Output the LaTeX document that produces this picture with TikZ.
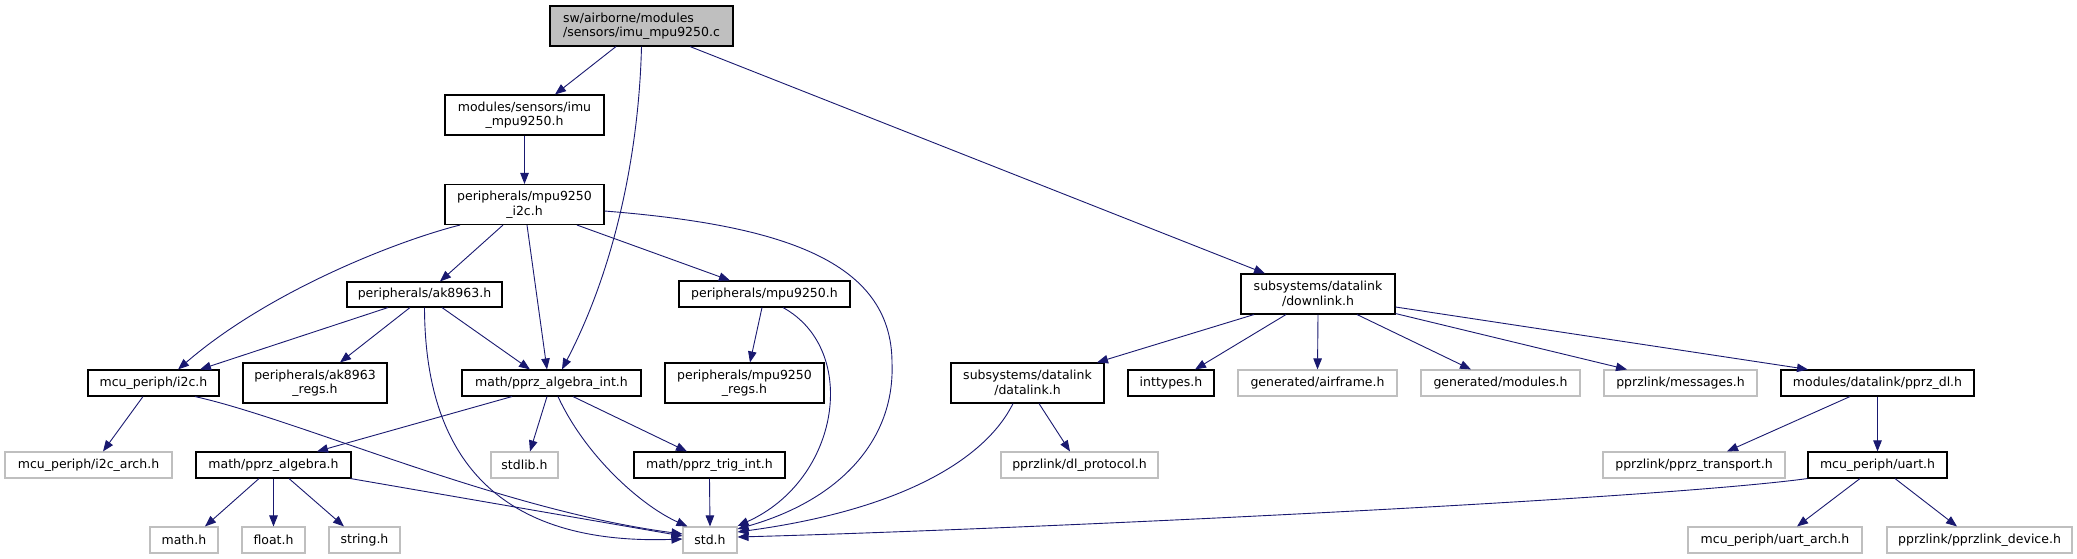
\documentclass[tikz,border=0pt]{standalone}
\usepackage{fontspec}
\setmainfont{DejaVu Sans}
\usetikzlibrary{arrows.meta}
\definecolor{edgec}{HTML}{191970}
\definecolor{greyb}{HTML}{BFBFBF}
\begin{document}
\begin{tikzpicture}[x=1pt,y=-1pt,
  box/.style={draw=black,fill=white,line width=1.1pt,rectangle,inner sep=0pt,align=center,
    font=\fontsize{12.5pt}{14.5pt}\selectfont,minimum height=26pt},
  tall/.style={minimum height=40pt},
  gbox/.style={box,draw=greyb},
  edge/.style={draw=edgec,line width=0.9pt,-{Triangle[length=11pt,width=8.5pt]}}]
\fill[white] (0,0) rectangle (2077,559);
\path[use as bounding box] (0,0) rectangle (2077,559);
% nodes
\node[box,tall,fill=greyb,align=left,minimum width=183pt] (root) at (641.5,26) {sw/airborne/modules\\/sensors/imu\_mpu9250.c};
\node[box,tall,minimum width=159pt] (imuh) at (524.5,115) {modules/sensors/imu\\\_mpu9250.h};
\node[box,tall,minimum width=159pt] (i2cmpu) at (524.5,204.5) {peripherals/mpu9250\\\_i2c.h};
\node[box,minimum width=155pt,minimum height=25pt] (ak) at (424.5,294.5) {peripherals/ak8963.h};
\node[box,minimum width=171pt] (mpuh) at (764.5,294) {peripherals/mpu9250.h};
\node[box,tall,minimum width=154pt] (downlink) at (1318,294) {subsystems/datalink\\/downlink.h};
\node[box,minimum width=131pt] (i2c) at (153.5,383) {mcu\_periph/i2c.h};
\node[box,tall,minimum width=144pt] (akregs) at (315,383) {peripherals/ak8963\\\_regs.h};
\node[box,minimum width=179pt] (algint) at (551.5,383) {math/pprz\_algebra\_int.h};
\node[box,tall,minimum width=159pt] (mpuregs) at (744.5,383) {peripherals/mpu9250\\\_regs.h};
\node[box,tall,minimum width=153pt] (datalink) at (1027.5,383) {subsystems/datalink\\/datalink.h};
\node[box,minimum width=86pt] (inttypes) at (1171,383) {inttypes.h};
\node[gbox,minimum width=159pt] (airframe) at (1317.5,383) {generated/airframe.h};
\node[gbox,minimum width=159pt] (modules) at (1500.5,383) {generated/modules.h};
\node[gbox,minimum width=153pt] (messages) at (1680.5,383) {pprzlink/messages.h};
\node[box,minimum width=193pt] (pprzdl) at (1877.5,383) {modules/datalink/pprz\_dl.h};
\node[gbox,minimum width=167pt] (i2carch) at (88.5,465) {mcu\_periph/i2c\_arch.h};
\node[box,minimum width=155pt] (alg) at (273.5,465) {math/pprz\_algebra.h};
\node[gbox,minimum width=67pt] (stdlib) at (524.5,465) {stdlib.h};
\node[box,minimum width=151pt] (trig) at (709.5,465) {math/pprz\_trig\_int.h};
\node[gbox,minimum width=157pt] (dlproto) at (1079.5,465) {pprzlink/dl\_protocol.h};
\node[gbox,minimum width=182pt] (transport) at (1694,465) {pprzlink/pprz\_transport.h};
\node[box,minimum width=139pt] (uart) at (1877.5,465) {mcu\_periph/uart.h};
\node[gbox,minimum width=68pt] (mathh) at (184,540) {math.h};
\node[gbox,minimum width=63pt] (floath) at (273.5,540) {float.h};
\node[gbox,minimum width=71pt] (stringh) at (364.5,540) {string.h};
\node[gbox,minimum width=54pt] (stdh) at (710,540) {std.h};
\node[gbox,minimum width=174pt] (uartarch) at (1775,540) {mcu\_periph/uart\_arch.h};
\node[gbox,minimum width=185pt] (device) at (1979.5,540) {pprzlink/pprzlink\_device.h};
% edges
\draw[edge] ([xshift=-25.5pt]root.south) -- ([xshift=30.5pt]imuh.north);
\draw[edge] (root.south) .. controls (639,150) and (616,266) .. ([xshift=10.5pt]algint.north);
\draw[edge] ([xshift=48.5pt]root.south) -- ([xshift=-53pt]downlink.north);
\draw[edge] (imuh.south) -- (i2cmpu.north);
\draw[edge] ([xshift=-64.5pt]i2cmpu.south) .. controls (400,240) and (270,290) .. ([xshift=24.5pt]i2c.north);
\draw[edge] ([xshift=-21.5pt]i2cmpu.south) -- ([xshift=15.5pt]ak.north);
\draw[edge] ([xshift=2.5pt]i2cmpu.south) -- ([xshift=-4.5pt]algint.north);
\draw[edge] ([xshift=52.5pt]i2cmpu.south) -- ([xshift=-34.5pt]mpuh.north);
\draw[edge] ([yshift=-6.5pt]i2cmpu.east) .. controls (780,225) and (892,260) .. (892,363) .. controls (895,440) and (840,500) .. ([yshift=11pt]stdh.east);
\draw[edge] ([xshift=-36.5pt]ak.south) -- ([xshift=46.5pt]i2c.north);
\draw[edge] ([xshift=-14.5pt]ak.south) -- ([xshift=25pt]akregs.north);
\draw[edge] ([xshift=17.5pt]ak.south) -- ([xshift=-21.5pt]algint.north);
\draw[edge] (ak.south) .. controls (425,470) and (510,545) .. ([yshift=1pt]stdh.west);
\draw[edge] ([xshift=-10.5pt]i2c.south) -- ([xshift=14.5pt]i2carch.north);
\draw[edge] ([xshift=41.5pt]i2c.south) .. controls (300,420) and (500,510) .. ([yshift=6pt]stdh.west);
\draw[edge] ([xshift=-39.5pt]algint.south) -- ([xshift=43.5pt]alg.north);
\draw[edge] ([xshift=-4.5pt]algint.south) -- ([xshift=5.5pt]stdlib.north);
\draw[edge] ([xshift=6.5pt]algint.south) .. controls (585,455) and (640,505) .. ([xshift=5pt]stdh.north west);
\draw[edge] ([xshift=21.5pt]algint.south) -- ([xshift=-22.5pt]trig.north);
\draw[edge] ([xshift=-14.5pt]alg.south) -- ([xshift=21pt]mathh.north);
\draw[edge] (alg.south) -- (floath.north);
\draw[edge] ([xshift=15.5pt]alg.south) -- ([xshift=-20.5pt]stringh.north);
\draw[edge] ([xshift=-1pt]alg.south east) -- ([yshift=4pt]stdh.west);
\draw[edge] (trig.south) -- (stdh.north);
\draw[edge] ([xshift=-2.5pt]mpuh.south) -- ([xshift=5.5pt]mpuregs.north);
\draw[edge] ([xshift=18.5pt]mpuh.south) .. controls (860,350) and (840,480) .. ([yshift=14pt]stdh.east);
\draw[edge] ([xshift=-64pt]downlink.south) -- ([xshift=69.5pt]datalink.north);
\draw[edge] ([xshift=-32pt]downlink.south) -- ([xshift=24pt]inttypes.north);
\draw[edge] (downlink.south) -- (airframe.north);
\draw[edge] ([xshift=39pt]downlink.south) -- ([xshift=-29.5pt]modules.north);
\draw[edge] ([yshift=1pt]downlink.south east) -- ([xshift=-53.5pt]messages.north);
\draw[edge] ([yshift=-13pt]downlink.east) -- ([xshift=-69.5pt]pprzdl.north);
\draw[edge] ([xshift=-14.5pt]datalink.south) .. controls (985,460) and (900,510) .. ([yshift=8pt]stdh.east);
\draw[edge] ([xshift=11.5pt]datalink.south) -- ([xshift=-9.5pt]dlproto.north);
\draw[edge] ([xshift=-27.5pt]pprzdl.south) -- ([xshift=33pt]transport.north);
\draw[edge] (pprzdl.south) -- (uart.north);
\draw[edge] (uart.south west) .. controls (1650,500) and (1000,530) .. ([yshift=3pt]stdh.east);
\draw[edge] ([xshift=-17.5pt]uart.south) -- ([xshift=22pt]uartarch.north);
\draw[edge] ([xshift=17.5pt]uart.south) -- ([xshift=-22.5pt]device.north);
\end{tikzpicture}
\end{document}
